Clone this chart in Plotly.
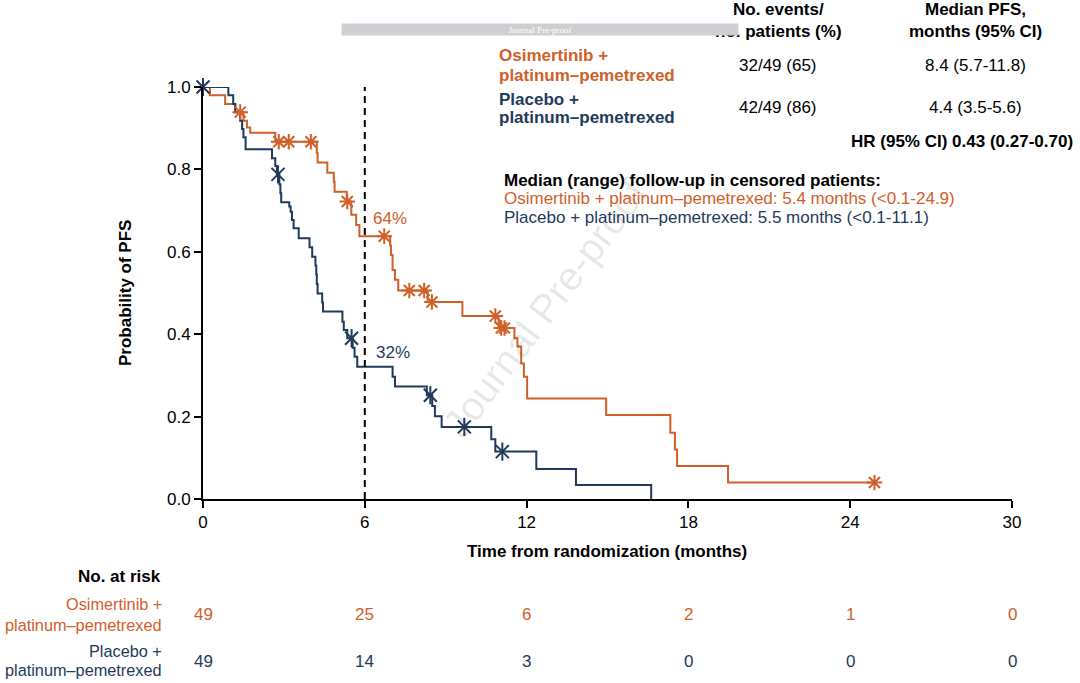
import plotly.graph_objects as go

ORANGE = "#D0602A"
BLUE = "#1F3A5A"
FONT = "Liberation Sans, Arial, sans-serif"
FS = 17

# ---- Kaplan-Meier step data (time in months, survival after each event) ----
osi_event_t = [0.26, 0.82, 1.19, 1.50, 1.63, 1.75, 2.68, 4.22, 4.25, 4.61, 4.85, 4.88,
               5.33, 5.50, 5.68, 5.80, 6.94, 6.97, 7.03, 7.12, 7.24, 8.33, 9.62, 10.96,
               11.55, 11.66, 11.80, 11.90, 12.02, 14.95, 17.33, 17.50, 17.58, 19.47]
osi_event_s = [0.980, 0.959, 0.939, 0.918, 0.902, 0.889, 0.867, 0.840, 0.817, 0.792, 0.770, 0.746,
               0.722, 0.690, 0.665, 0.638, 0.615, 0.592, 0.556, 0.532, 0.506, 0.478, 0.444, 0.415,
               0.390, 0.370, 0.329, 0.297, 0.244, 0.204, 0.161, 0.120, 0.080, 0.040]
osi_last_t = 24.9
osi_cens_t = [1.38, 2.81, 3.18, 4.00, 5.35, 6.72, 7.65, 8.20, 8.49, 10.84, 11.06, 11.18, 24.9]

pbo_event_t = [0.94, 1.12, 1.20, 1.38, 1.45, 1.50, 1.58, 2.56, 2.68, 2.74, 2.83, 2.87, 2.90,
               3.20, 3.25, 3.30, 3.36, 3.55, 3.95, 4.05, 4.17, 4.20, 4.22, 4.25, 4.42, 4.45,
               5.17, 5.22, 5.35, 5.55, 5.62, 5.72, 7.03, 7.12, 8.30, 8.50, 8.60, 8.85,
               10.69, 10.84, 12.36, 13.83, 16.62]
pbo_event_s = [0.980, 0.959, 0.939, 0.918, 0.898, 0.878, 0.849, 0.827, 0.808, 0.788, 0.764, 0.742, 0.720,
               0.710, 0.697, 0.677, 0.657, 0.633, 0.611, 0.588, 0.567, 0.545, 0.522, 0.499, 0.477, 0.455,
               0.430, 0.410, 0.390, 0.367, 0.345, 0.321, 0.297, 0.273, 0.252, 0.226, 0.201, 0.175,
               0.145, 0.115, 0.073, 0.034, 0.000]
pbo_cens_t = [0.0, 2.78, 5.51, 8.43, 9.69, 11.1]

x_ticks = [0, 6, 12, 18, 24, 30]
y_ticks = [0.0, 0.2, 0.4, 0.6, 0.8, 1.0]
risk_osi = [49, 25, 6, 2, 1, 0]
risk_pbo = [49, 14, 3, 0, 0, 0]

osi_label = ["Osimertinib +", "platinum–pemetrexed"]
pbo_label = ["Placebo +", "platinum–pemetrexed"]


def step_points(ts, ss, last_t=None):
    xs, ys = [0.0], [1.0]
    for t, s in zip(ts, ss):
        xs.append(t)
        ys.append(s)
    if last_t is not None:
        xs.append(last_t)
        ys.append(ss[-1])
    return xs, ys


def surv_at(t, ts, ss):
    s = 1.0
    for ti, si in zip(ts, ss):
        if ti <= t:
            s = si
    return s


fig = go.Figure()

ox, oy = step_points(osi_event_t, osi_event_s, osi_last_t)
bx, by = step_points(pbo_event_t, pbo_event_s)

fig.add_trace(go.Scatter(x=ox, y=oy, mode="lines", line=dict(color=ORANGE, width=2, shape="hv"),
                         cliponaxis=False, showlegend=False, hoverinfo="skip"))
fig.add_trace(go.Scatter(x=bx, y=by, mode="lines", line=dict(color=BLUE, width=2, shape="hv"),
                         cliponaxis=False, showlegend=False, hoverinfo="skip"))

# censor marks
fig.add_trace(go.Scatter(x=osi_cens_t, y=[surv_at(t, osi_event_t, osi_event_s) for t in osi_cens_t],
                         mode="markers", marker=dict(symbol="asterisk-open", size=13, color=ORANGE,
                                                     line=dict(color=ORANGE, width=2)),
                         cliponaxis=False, showlegend=False, hoverinfo="skip"))
pbo_cy = [surv_at(t, pbo_event_t, pbo_event_s) for t in pbo_cens_t]
for sym in ["x-thin-open", "line-ns-open"]:
    fig.add_trace(go.Scatter(x=pbo_cens_t, y=pbo_cy, mode="markers",
                             marker=dict(symbol=sym, size=13, color=BLUE, line=dict(color=BLUE, width=2)),
                             cliponaxis=False, showlegend=False, hoverinfo="skip"))

# dashed line at 6 months
fig.add_shape(type="line", x0=6, x1=6, y0=0, y1=1, xref="x", yref="y",
              line=dict(color="black", width=2, dash="7px,5px"))

L, R, T, B = 203, 1012, 87, 499


def pxx(x):
    return (x - L) / (R - L)


def pyy(y):
    return (B - y) / (B - T)


ann = []


def add(text, x, y, xanchor="center", color="black", size=FS, bold=False, **kw):
    if bold:
        text = "<b>" + text + "</b>"
    ann.append(dict(text=text, x=pxx(x), y=pyy(y), xref="paper", yref="paper",
                    xanchor=xanchor, yanchor="middle", showarrow=False,
                    font=dict(family=FONT, size=size, color=color), **kw))


def add_lines(lines, x, ys, **kw):
    for line, y in zip(lines, ys):
        add(line, x, y, **kw)


# diagonal watermark
add("Journal Pre-proof", 545, 308, color="rgba(0,0,0,0.09)", size=40, textangle=-53)

add("64%", 390, 218, color=ORANGE)
add("32%", 393, 352, color=BLUE)

add("Time from randomization (months)", 607, 551, bold=True)
add("Probability of PFS", 125, 293, bold=True, textangle=-90)

add_lines(["No. events/", "no. patients (%)"], 778, [10, 31], bold=True)
add_lines(["Median PFS,", "months (95% CI)"], 975, [10, 31], bold=True)
add_lines(osi_label, 497, [56, 75], xanchor="left", color=ORANGE, bold=True)
add_lines(pbo_label, 497, [99, 118], xanchor="left", color=BLUE, bold=True)
add("32/49 (65)", 778, 66)
add("8.4 (5.7-11.8)", 975, 66)
add("42/49 (86)", 778, 108)
add("4.4 (3.5-5.6)", 975, 108)
add("HR (95% CI) 0.43 (0.27-0.70)", 1075, 141, xanchor="right", bold=True)
add("Median (range) follow-up in censored patients:", 502, 180, xanchor="left", bold=True)
add("Osimertinib + platinum–pemetrexed: 5.4 months (<0.1-24.9)", 502, 198, xanchor="left", color=ORANGE)
add("Placebo + platinum–pemetrexed: 5.5 months (<0.1-11.1)", 502, 217, xanchor="left", color=BLUE)

# journal pre-proof bar (drawn after header so it covers it)
ann.append(dict(text="Journal Pre-proof", x=pxx(540), y=pyy(29), xref="paper", yref="paper",
                xanchor="center", yanchor="middle", showarrow=False, width=396, height=11,
                bgcolor="#CFCFD3", borderpad=0,
                font=dict(family="Liberation Serif, serif", size=9, color="white")))

# number at risk
add("No. at risk", 163, 576, xanchor="right", bold=True)
add_lines(osi_label, 164, [604, 625], xanchor="right", color=ORANGE, size=16.3)
add_lines(pbo_label, 164, [651, 670], xanchor="right", color=BLUE, size=16.3)
for t, n in zip(x_ticks, risk_osi):
    ann.append(dict(text=str(n), x=t, y=pyy(614), xref="x", yref="paper", showarrow=False,
                    xanchor="center", yanchor="middle", font=dict(family=FONT, size=FS, color=ORANGE)))
for t, n in zip(x_ticks, risk_pbo):
    ann.append(dict(text=str(n), x=t, y=pyy(661), xref="x", yref="paper", showarrow=False,
                    xanchor="center", yanchor="middle", font=dict(family=FONT, size=FS, color=BLUE)))

fig.update_layout(
    width=1080, height=683,
    margin=dict(l=L, r=1080 - R, t=T, b=683 - B),
    plot_bgcolor="white", paper_bgcolor="white",
    font=dict(family=FONT, size=FS, color="black"),
    annotations=ann,
    xaxis=dict(range=[0, 30], tickvals=x_ticks, ticktext=[str(v) for v in x_ticks],
               showline=True, linecolor="black", linewidth=2, ticks="outside", ticklen=7,
               tickwidth=2, tickcolor="black", showgrid=False, zeroline=False,
               tickfont=dict(family=FONT, size=FS)),
    yaxis=dict(range=[0, 1], tickvals=y_ticks, ticktext=[f"{v:.1f}" for v in y_ticks],
               showline=True, linecolor="black", linewidth=2, ticks="outside", ticklen=7,
               tickwidth=2, tickcolor="black", showgrid=False, zeroline=False,
               tickfont=dict(family=FONT, size=FS)),
)

fig.write_html("out.html", config={"displayModeBar": False},
               post_script="document.body.style.margin='0';document.body.style.overflow='hidden';")
